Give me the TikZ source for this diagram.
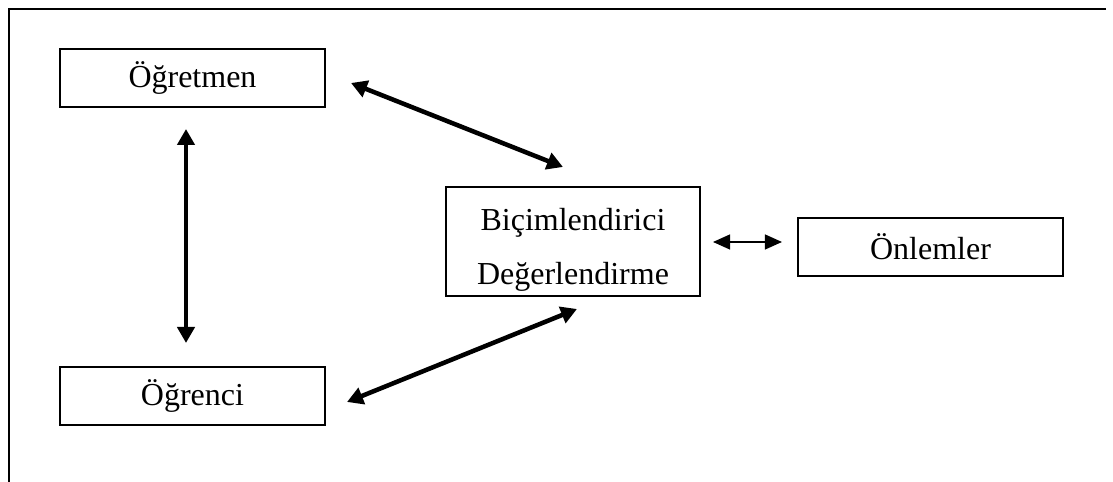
\documentclass[tikz,border=0pt]{standalone}
\usepackage{fontspec}
\setmainfont{Liberation Serif}
\usetikzlibrary{arrows.meta}

\begin{document}
\begin{tikzpicture}[x=0.375pt,y=-0.375pt,
    box/.style={draw,line width=1pt,inner sep=0pt,minimum width=99.4pt,minimum height=21.75pt,font=\fontsize{12}{20.6}\selectfont},
    link/.style={{Triangle[length=6pt,width=6.4pt]}-{Triangle[length=6pt,width=6.4pt]},line width=1.7pt},
    thinlink/.style={{Triangle[length=6.4pt,width=5.6pt]}-{Triangle[length=6.4pt,width=5.6pt]},line width=0.6pt}]
    \useasboundingbox (0,0) rectangle (1113,482);
    \draw[line width=1pt] (1106,9) -- (9,9) -- (9,482);

    \node[box] (ogretmen) at (192.5,78) {Öğretmen};
    \node[box] (ogrenci) at (192.5,396) {Öğrenci};
    \node[box,minimum width=95.25pt,minimum height=40.9pt,align=center] (bicim) at (573,241.5)
        {\rule{0pt}{14.6pt}Biçimlendirici\\Değerlendirme};
    \node[box] (onlem) at (930.5,247) {Önlemler};

    \coordinate (v1) at (186,129);
    \coordinate (v2) at (186,343);
    \coordinate (u1) at (351,83);
    \coordinate (u2) at (563,167);
    \coordinate (l1) at (347,402);
    \coordinate (l2) at (577,309);
    \coordinate (h1) at (713,242);
    \coordinate (h2) at (782,242);

    \path[link] (v1) edge (v2);
    \path[link] (u1) edge (u2);
    \path[link] (l1) edge (l2);
    \path[thinlink] (h1) edge (h2);
\end{tikzpicture}
\end{document}
